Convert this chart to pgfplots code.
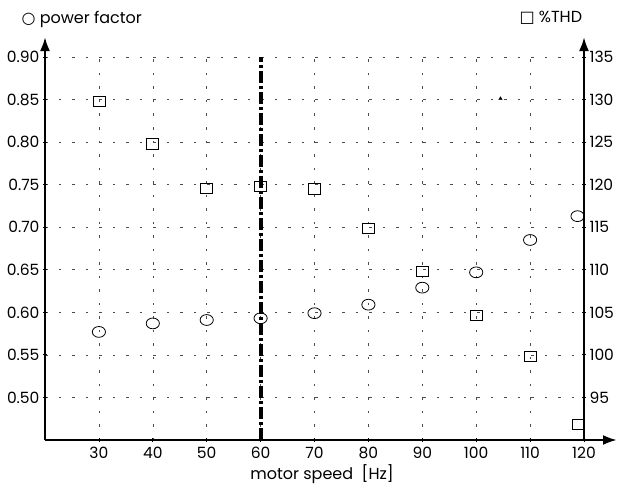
\documentclass[border=0pt]{standalone}
\usepackage{pgfplots}
\pgfplotsset{compat=1.18}
\usepackage{fontspec}
\setmainfont{Poppins}
\newfontfamily\symfont{DejaVu Sans}
\usetikzlibrary{arrows.meta}

% power factor (left axis)
\pgfplotstableread{
x pf
30 0.577
40 0.587
50 0.591
60 0.593
70 0.599
80 0.609
90 0.629
100 0.647
110 0.685
118.8 0.713
}\pftable

% %THD (right axis)
\pgfplotstableread{
x thd
30 129.8
40 124.8
50 119.6
60 119.8
70 119.5
80 114.9
90 109.8
100 104.6
110 99.8
118.9 91.8
}\thdtable

\begin{document}
\begin{tikzpicture}
\useasboundingbox (-45pt,-48pt) rectangle (581pt,440pt);
\pgfplotsset{
  base/.style={
    scale only axis, width=539pt, height=383pt,
    xmin=20, xmax=120,
    tick label style={font=\fontsize{15.5}{17}\selectfont},
    /pgf/number format/assume math mode=true,
    axis line style={line width=2.4pt},
    tick style={black, line width=0.8pt},
    major tick length=4pt,
    tick align=outside,
  },
}
\begin{axis}[base,
  ymin=0.45, ymax=0.90,
  axis x line=bottom, axis y line=left,
  x axis line style={-{Latex[length=14pt,width=10pt]}, shorten >=-33pt},
  y axis line style={-{Latex[length=14pt,width=10pt]}, shorten >=-20pt},
  xtick={30,40,50,60,70,80,90,100,110,120},
  ytick={0.50,0.55,0.60,0.65,0.70,0.75,0.80,0.85,0.90},
  yticklabel style={/pgf/number format/.cd, fixed, fixed zerofill, precision=2},
  xticklabel style={yshift=-2pt},
  grid=major,
  grid style={black!70, line width=0.6pt, dash pattern=on 2.5pt off 11pt},
]
\addplot[black, line width=4pt, dash pattern=on 12pt off 3pt on 3pt off 3pt]
  coordinates {(60,0.45) (60,0.90)};
\addplot[only marks, mark=o, mark size=6pt, black, line width=0.8pt,
  mark options={xscale=1.1, yscale=0.9}] table[x=x, y=pf] {\pftable};
\addplot[only marks, mark=triangle*, mark size=2pt, black]
  coordinates {(104.5,0.851)};
\end{axis}
\begin{axis}[base,
  ymin=90, ymax=135,
  axis x line=none, axis y line=right,
  xtick=\empty,
  y axis line style={-{Latex[length=14pt,width=10pt]}, shorten >=-20pt},
  ytick={95,100,105,110,115,120,125,130,135},
]
\addplot[only marks, mark=square, mark size=6pt, black, line width=0.8pt,
  mark options={yscale=0.85}] table[x=x, y=thd] {\thdtable};
\end{axis}
\node[anchor=west, font=\fontsize{16}{18}\selectfont] at (-27pt,421pt)
  {{\symfont ○}\ power factor};
\node[anchor=west, font=\fontsize{16}{18}\selectfont] at (471pt,422pt)
  {{\symfont □}\ \%THD};
\node[font=\fontsize{16}{18}\selectfont] at (277pt,-34pt) {motor speed\ \ [Hz]};
\end{tikzpicture}
\end{document}
